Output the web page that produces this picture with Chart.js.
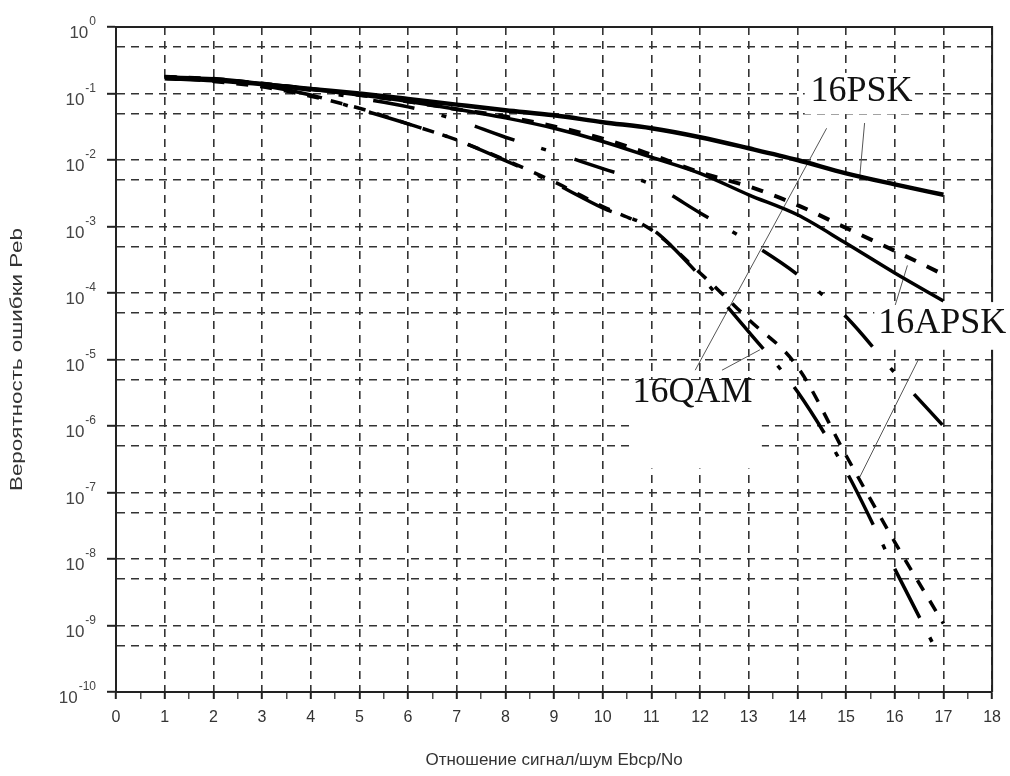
<!DOCTYPE html>
<html>
<head>
<meta charset="utf-8">
<script src="https://cdn.jsdelivr.net/npm/chart.js@4.4.1/dist/chart.umd.min.js"></script>
<style>
  html, body { margin: 0; padding: 0; background: #fff; }
  #wrap { width: 1010px; height: 776px; }
</style>
</head>
<body>
<div id="wrap"><canvas id="berChart" width="1010" height="776"></canvas></div>
<script>
// Eb/No points (dB)
const ebno = [1, 2, 3, 4, 5, 6, 7, 8, 9, 10, 11, 12, 13, 14, 15, 16, 17];
const ebnoLowest = [1, 2, 3, 4, 5, 6, 7, 8, 9, 10, 11, 12, 13, 14, 15, 16, 16.85];

// error probability
const solidUpper = [0.17, 0.158, 0.138, 0.117, 0.1, 0.083, 0.068, 0.056, 0.047, 0.037, 0.03, 0.022, 0.015, 0.01, 0.0063, 0.0043, 0.003];
const solidLower = [0.178, 0.166, 0.141, 0.117, 0.095, 0.076, 0.058, 0.043, 0.03, 0.019, 0.011, 0.0063, 0.003, 0.0015, 5.6e-4, 2.0e-4, 7.6e-5];
const dashedUpper = [0.178, 0.166, 0.141, 0.117, 0.095, 0.076, 0.058, 0.045, 0.032, 0.021, 0.012, 0.0065, 0.004, 0.0021, 9.5e-4, 4.3e-4, 1.9e-4];
const dashDotUpper = [0.178, 0.158, 0.138, 0.112, 0.085, 0.063, 0.04, 0.022, 0.013, 0.0074, 0.0043, 0.0016, 5.9e-4, 1.9e-4, 4.4e-5, 6.3e-6, 1.0e-6];
const dashDotLower = [0.178, 0.158, 0.132, 0.095, 0.058, 0.035, 0.02, 0.0098, 0.0045, 0.0019, 9.3e-4, 1.8e-4, 2.6e-5, 3.3e-6, 2.1e-7, 7.1e-9, 4.3e-10];
const dashedLower = [0.178, 0.152, 0.126, 0.091, 0.06, 0.035, 0.02, 0.01, 0.0047, 0.002, 8.9e-4, 2.0e-4, 4.0e-5, 7.8e-6, 3.6e-7, 1.8e-8, 1.07e-9];

// axis ticks
const xTickValues = [0, 1, 2, 3, 4, 5, 6, 7, 8, 9, 10, 11, 12, 13, 14, 15, 16, 17, 18];
const yDecades = [0, -1, -2, -3, -4, -5, -6, -7, -8, -9, -10];
const yTitle = 'Вероятность ошибки Peb';

// labels and their pointer lines (data units)
const noteText = ['16PSK', '16APSK', '16QAM'];
const noteX = [14.27, 15.66, 10.61];
const noteY = [0.077, 2.5e-5, 2.3e-6];
const noteBoxes = [
  [14.15, 16.4, 0.204, 0.049],
  [15.58, 18.4, 7.3e-5, 1.4e-5],
  [10.57, 13.27, 4.9e-6, 2.3e-7]
];
const leaders = [
  [[14.6, 0.030], [11.9, 6.9e-6]],
  [[15.38, 0.036], [15.28, 0.0055]],
  [[16.01, 6.6e-5], [16.26, 2.6e-4]],
  [[16.48, 9.8e-6], [15.28, 1.7e-7]],
  [[12.45, 6.9e-6], [13.23, 1.4e-5]]
];

function curve(xs, ys, width, dash) {
  return {
    data: xs.map((x, i) => ({x: x, y: ys[i]})),
    borderColor: '#000',
    borderWidth: width,
    borderDash: dash,
    pointRadius: 0,
    cubicInterpolationMode: 'monotone',
    fill: false
  };
}

const datasets = [
  curve(ebno, solidUpper, 4.5, []),
  curve(ebno, solidLower, 3.5, []),
  curve(ebno, dashedUpper, 4, [12, 12]),
  curve(ebno, dashDotUpper, 3.5, [42, 28, 5, 30]),
  curve(ebnoLowest, dashDotLower, 3.5, [55, 22, 5, 22]),
  curve(ebno, dashedLower, 3.5, [12, 12])
];
leaders.forEach(function(seg) {
  datasets.push({
    data: seg.map(p => ({x: p[0], y: p[1]})),
    borderColor: '#555',
    borderWidth: 1,
    pointRadius: 0,
    tension: 0,
    fill: false
  });
});

const overlay = {
  id: 'overlay',
  beforeDatasetsDraw(chart) {
    const {ctx, chartArea: a, scales: {x, y}} = chart;
    ctx.save();
    // top and right frame
    ctx.strokeStyle = '#222';
    ctx.lineWidth = 2;
    ctx.beginPath();
    ctx.moveTo(a.left, a.top);
    ctx.lineTo(a.right, a.top);
    ctx.lineTo(a.right, a.bottom);
    ctx.stroke();
    // white boxes behind the labels
    ctx.fillStyle = '#fff';
    noteBoxes.forEach(function(b) {
      const x0 = x.getPixelForValue(b[0]), x1 = x.getPixelForValue(b[1]);
      const y0 = y.getPixelForValue(b[2]), y1 = y.getPixelForValue(b[3]);
      ctx.fillRect(x0, y0, x1 - x0, y1 - y0);
    });
    ctx.restore();
  },
  afterDraw(chart) {
    const {ctx, chartArea: a, scales: {x, y}} = chart;
    ctx.save();
    // curve labels
    ctx.fillStyle = '#111';
    ctx.font = '36px "Liberation Serif", "Times New Roman", serif';
    ctx.textAlign = 'left';
    ctx.textBaseline = 'alphabetic';
    noteText.forEach(function(t, i) {
      ctx.fillText(t, x.getPixelForValue(noteX[i]), y.getPixelForValue(noteY[i]));
    });
    // y tick labels as 10 with a raised power
    ctx.fillStyle = '#444';
    yDecades.forEach(function(d) {
      const py = y.getPixelForValue(Math.pow(10, d));
      const pow = String(d);
      ctx.font = '12px "Liberation Sans", Arial, sans-serif';
      const pw = ctx.measureText(pow).width;
      const px = 96 - pw;
      ctx.fillText(pow, px, py - 2);
      ctx.font = '17px "Liberation Sans", Arial, sans-serif';
      const bw = ctx.measureText('10').width;
      ctx.fillText('10', px - 1 - bw, py + 11);
    });
    // y title, stretched along its length like the scan
    ctx.fillStyle = '#333';
    ctx.font = '16px "Liberation Sans", Arial, sans-serif';
    ctx.textAlign = 'center';
    ctx.textBaseline = 'middle';
    ctx.translate(18, (a.top + a.bottom) / 2);
    ctx.rotate(-Math.PI / 2);
    ctx.scale(1.4, 1);
    ctx.fillText(yTitle, 0, 0);
    ctx.restore();
  }
};

const config = {
  type: 'line',
  data: {datasets: datasets},
  options: {
    responsive: false,
    animation: false,
    layout: {padding: {top: 27, right: 13, left: 0, bottom: 0}},
    plugins: {legend: {display: false}, tooltip: {enabled: false}},
    scales: {
      x: {
        type: 'linear',
        min: 0,
        max: 18,
        afterBuildTicks: function(axis) {
          const t = [];
          xTickValues.forEach(function(v) {
            t.push({value: v});
            if (v < 18) t.push({value: v + 0.5});
          });
          axis.ticks = t;
        },
        afterFit: function(axis) { axis.height = 84; },
        ticks: {
          autoSkip: false,
          maxRotation: 0,
          padding: 9,
          color: '#333',
          font: {family: '"Liberation Sans", Arial, sans-serif', size: 16},
          callback: function(v) { return Number.isInteger(v) ? String(v) : ''; }
        },
        grid: {
          color: function(c) { return c.tick && Number.isInteger(c.tick.value) ? '#333' : 'rgba(0,0,0,0)'; },
          lineWidth: 1.6,
          tickColor: '#222',
          tickLength: 7,
          tickWidth: function(c) { return c.tick && Number.isInteger(c.tick.value) ? 2 : 1.2; }
        },
        border: {display: true, color: '#222', width: 2, dash: [8, 6]},
        title: {
          display: true,
          text: 'Отношение сигнал/шум Ebcp/No',
          color: '#333',
          font: {family: '"Liberation Sans", Arial, sans-serif', size: 17},
          padding: {top: 0, bottom: 5}
        }
      },
      y: {
        type: 'logarithmic',
        min: 1e-10,
        max: 1,
        afterBuildTicks: function(axis) {
          const t = [];
          yDecades.forEach(function(d) {
            t.push({value: Math.pow(10, d)});
            if (d > -10) t.push({value: 5 * Math.pow(10, d - 1)});
          });
          axis.ticks = t;
        },
        afterFit: function(axis) { axis.width = 116; },
        ticks: {display: false},
        grid: {
          color: '#333',
          lineWidth: 1.6,
          tickLength: 9,
          tickWidth: 2,
          tickColor: function(c) {
            if (!c.tick) return '#222';
            const lg = Math.log10(c.tick.value);
            return Math.abs(lg - Math.round(lg)) < 1e-6 ? '#222' : 'rgba(0,0,0,0)';
          }
        },
        border: {display: true, color: '#222', width: 2, dash: [8, 6]},
        title: {display: false}
      }
    }
  },
  plugins: [overlay]
};

const berChart = new Chart(document.getElementById('berChart').getContext('2d'), config);
</script>
</body>
</html>
